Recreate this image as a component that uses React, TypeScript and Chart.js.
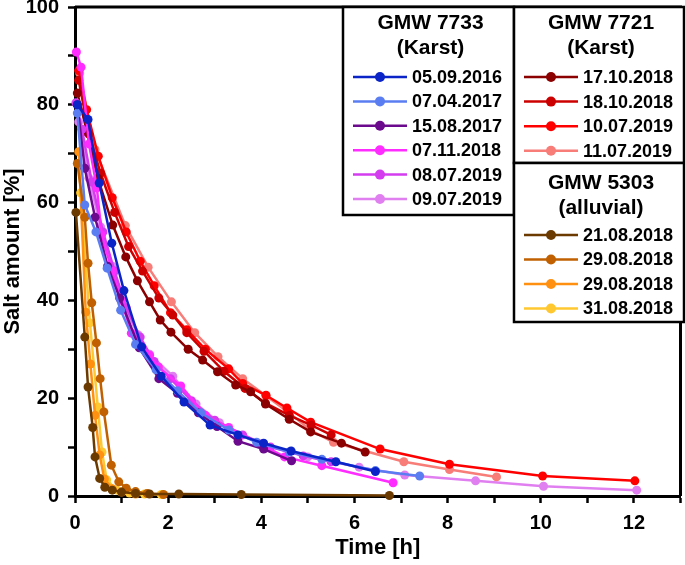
import React, { useEffect, useRef } from "react";
import { Chart, registerables } from "chart.js";

Chart.register(...registerables);

const FONT = '"Liberation Sans", Arial, Helvetica, sans-serif';

// ---- Data (time [h], salt amount [%]) ----
const labels = [
  "05.09.2016", "07.04.2017", "15.08.2017", "07.11.2018", "08.07.2019", "09.07.2019",
  "17.10.2018", "18.10.2018", "10.07.2019", "11.07.2019",
  "21.08.2018", "29.08.2018", "29.08.2018", "31.08.2018",
];
const colors = [
  "#0a24c8", "#5b7df2", "#6b0a8c", "#ff2cff", "#d43cf0", "#e080f0",
  "#8b0000", "#cc0000", "#ff0000", "#f87c78",
  "#6b3a00", "#c06000", "#ff9010", "#ffc830",
];

const t0 = [0.05, 0.28, 0.52, 0.79, 1.05, 1.43, 1.85, 2.34, 2.9, 3.5, 4.05, 4.64, 5.6, 6.45];
const v0 = [80, 77, 64, 51.7, 42, 30.5, 24.5, 19.2, 14.5, 12.5, 10.8, 9.2, 7.0, 5.0];
const t1 = [0.05, 0.21, 0.45, 0.69, 0.98, 1.3, 1.74, 2.2, 2.7, 3.3, 3.9, 4.6, 5.3, 6.45, 7.4];
const v1 = [78.3, 59.5, 54, 46.6, 38, 31, 25.8, 21.5, 17, 13.5, 11, 9, 7.5, 5.2, 4.1];
const t2 = [0.05, 0.21, 0.43, 0.7, 0.96, 1.38, 1.8, 2.2, 2.65, 3.05, 3.5, 4.05, 4.65];
const v2 = [80, 67, 57, 47, 40.5, 30.3, 24, 21, 17, 14.2, 11.2, 9.6, 7.2];
const t3 = [0.03, 0.13, 0.3, 0.47, 0.57, 0.8, 1.0, 1.21, 1.6, 1.79, 2.27, 2.8, 3.3, 4.0, 4.5, 5.3, 6.83];
const v3 = [90.8, 87.7, 72, 63, 53.4, 46, 40, 33.3, 28.8, 26.4, 22.5, 16.5, 14, 10.5, 8, 6.2, 2.7];
const t4 = [0.02, 0.15, 0.36, 0.6, 0.85, 1.1, 1.4, 1.7, 2.05, 2.5, 3.0, 3.6, 4.2, 4.9, 5.5];
const v4 = [80.4, 75, 64.2, 54, 46, 38.5, 32.5, 27.5, 24, 19.5, 15.5, 12.5, 10, 8.2, 7];
const t5 = [0.08, 0.3, 0.55, 0.8, 1.1, 1.35, 1.6, 2.1, 2.6, 3.1, 4.0, 5.0, 6.1, 7.08, 8.6, 10.06, 12.06];
const v5 = [76.5, 65, 55, 47, 38, 33, 29, 24.5, 18.8, 15, 10.7, 8, 5.9, 4.3, 3.1, 2, 1.2];
const t6 = [0.05, 0.26, 0.49, 0.81, 1.09, 1.34, 1.6, 1.83, 2.06, 2.43, 2.74, 3.06, 3.45, 3.77, 4.09, 4.6, 5.06, 5.72, 6.23];
const v6 = [82.4, 74.4, 65, 55.4, 48.9, 44, 39.7, 36, 33.5, 30, 27.8, 25.4, 22.7, 21.3, 18.8, 15.7, 13.1, 10.8, 9];
const t7 = [0.08, 0.3, 0.55, 0.85, 1.15, 1.45, 1.8, 2.1, 2.4, 2.77, 3.2, 3.65, 4.09, 4.6, 5.07, 5.5];
const v7 = [85, 74, 66, 58, 51, 46, 40.5, 37, 33.4, 29.6, 25.5, 22, 19, 16.5, 14.5, 12.5];
const t8 = [0.08, 0.25, 0.5, 0.8, 1.1, 1.4, 1.7, 2.05, 2.4, 2.8, 3.3, 3.6, 4.1, 4.55, 5.06, 6.55, 8.04, 10.04, 12.02];
const v8 = [87, 79, 69.5, 61, 54, 48, 43, 37.5, 34, 30, 26, 23, 20.6, 18, 15.1, 9.6, 6.5, 4.1, 3.1];
const t9 = [0.1, 0.43, 1.08, 1.57, 2.07, 2.57, 3.07, 3.6, 4.1, 4.6, 5.05, 5.55, 7.06, 8.04, 9.05];
const v9 = [86.5, 70.8, 55.3, 46.8, 39.7, 33.4, 28.5, 24, 20.5, 17, 13.5, 11, 7, 5.4, 3.9];
const t10 = [0.02, 0.21, 0.28, 0.38, 0.43, 0.53, 0.64, 0.8, 1.0, 1.3, 1.6, 2.23, 3.57, 6.75];
const v10 = [58, 32.5, 22.3, 14, 8, 3.6, 1.8, 1.2, 0.8, 0.5, 0.4, 0.4, 0.3, 0.1];
const t11 = [0.05, 0.21, 0.28, 0.36, 0.46, 0.54, 0.62, 0.78, 0.94, 1.1, 1.3, 1.55, 1.9];
const v11 = [68, 57, 47.6, 39.5, 31.3, 24, 17.2, 6.3, 2.9, 1.6, 0.9, 0.5, 0.3];
const t12 = [0.08, 0.23, 0.33, 0.43, 0.53, 0.63, 0.8, 1.0, 1.3];
const v12 = [70.4, 37.6, 27, 16.5, 8.4, 3.5, 1.5, 0.8, 0.4];
const t13 = [0.12, 0.32, 0.49, 0.58, 0.68, 0.9, 1.17, 1.49, 1.85];
const v13 = [62, 35.4, 18.2, 9, 3.3, 1.2, 0.6, 0.4, 0.3];

const times = [t0, t1, t2, t3, t4, t5, t6, t7, t8, t9, t10, t11, t12, t13];
const values = [v0, v1, v2, v3, v4, v5, v6, v7, v8, v9, v10, v11, v12, v13];

const groupTitles = [["GMW 7733", "(Karst)"], ["GMW 7721", "(Karst)"], ["GMW 5303", "(alluvial)"]];
const groupMembers = [[0, 1, 2, 3, 4, 5], [6, 7, 8, 9], [10, 11, 12, 13]];

const xTickLabels = [0, 2, 4, 6, 8, 10, 12];
const yTickLabels = [0, 20, 40, 60, 80, 100];

// ---- legend / frame plugin ----
const boxes = [
  { x: 343, y: 7, w: 171, h: 208, ty: 23, firstY: 77, step: 24.4 },
  { x: 514, y: 7, w: 170, h: 156, ty: 23, firstY: 77, step: 24.6 },
  { x: 514, y: 163, w: 170, h: 159, ty: 183, firstY: 235, step: 24.5 },
];

const framePlugin = {
  id: "frameLegend",
  afterDraw(chart: any) {
    const { ctx, chartArea } = chart;
    ctx.save();
    ctx.strokeStyle = "#000";
    ctx.lineWidth = 3;
    ctx.beginPath();
    ctx.moveTo(chartArea.left, chartArea.top);
    ctx.lineTo(chartArea.right, chartArea.top);
    ctx.lineTo(chartArea.right, chartArea.bottom);
    ctx.stroke();

    boxes.forEach((b, gi) => {
      ctx.fillStyle = "#fff";
      ctx.fillRect(b.x, b.y, b.w, b.h);
      ctx.lineWidth = 2.5;
      ctx.strokeStyle = "#000";
      ctx.strokeRect(b.x, b.y, b.w, b.h);
      ctx.fillStyle = "#000";
      ctx.textAlign = "center";
      ctx.textBaseline = "middle";
      ctx.font = `bold 21px ${FONT}`;
      const cx = b.x + b.w / 2 + 2;
      ctx.fillText(groupTitles[gi][0], cx, b.ty);
      ctx.fillText(groupTitles[gi][1], cx, b.ty + 25);
      ctx.font = `bold 18px ${FONT}`;
      ctx.textAlign = "left";
      groupMembers[gi].forEach((si, k) => {
        const y = b.firstY + k * b.step;
        const x1 = b.x + 10;
        const x2 = b.x + 64;
        ctx.strokeStyle = colors[si];
        ctx.lineWidth = 2.5;
        ctx.beginPath();
        ctx.moveTo(x1, y);
        ctx.lineTo(x2, y);
        ctx.stroke();
        ctx.fillStyle = colors[si];
        ctx.beginPath();
        ctx.arc((x1 + x2) / 2, y, 5, 0, Math.PI * 2);
        ctx.fill();
        ctx.fillStyle = "#000";
        ctx.fillText(labels[si], b.x + 69, y + 1);
      });
    });
    ctx.restore();
  },
};

export default function App() {
  const ref = useRef<HTMLCanvasElement | null>(null);
  useEffect(() => {
    document.body.style.margin = "0";
    Chart.defaults.font.family = FONT;
    Chart.defaults.font.size = 20;
    Chart.defaults.font.weight = "bold" as any;
    Chart.defaults.color = "#000";
    const canvas = ref.current!;
    const datasets = times.map((t, i) => ({
      label: labels[i],
      data: t.map((x, j) => ({ x, y: values[i][j] })),
      showLine: true,
      borderColor: colors[i],
      backgroundColor: colors[i],
      borderWidth: 2.5,
      pointRadius: 4.5,
      pointBorderWidth: 0,
      pointBackgroundColor: colors[i],
      clip: false as any,
    }));
    const tickFont = () => ({ family: FONT, size: 20, weight: "bold" });
    const titleFont = { family: FONT, size: 22, weight: "bold" as const };
    const chart = new Chart(canvas, {
      type: "scatter",
      data: { datasets },
      options: {
        responsive: false,
        animation: false,
        layout: { padding: { top: 7, right: 1, left: 0, bottom: 0 } },
        plugins: { legend: { display: false }, tooltip: { enabled: false } },
        scales: {
          x: {
            type: "linear",
            min: 0,
            max: 13,
            ticks: {
              stepSize: 1,
              autoSkip: false,
              maxRotation: 0,
              color: "#000",
              font: tickFont as any,
              padding: 8,
              callback: (v: any) => (xTickLabels.includes(Number(v)) ? String(v) : ""),
            },
            grid: { drawOnChartArea: false, drawTicks: true, tickLength: 7, tickWidth: 2.5, color: "#000" },
            border: { display: true, width: 3, color: "#000" },
            title: { display: true, text: "Time [h]", color: "#000", font: titleFont, padding: { top: 2, bottom: 4 } },
            afterFit: (s: any) => {
              s.height = 69;
              s.paddingLeft = 0;
              s.paddingRight = 0;
            },
          },
          y: {
            type: "linear",
            min: 0,
            max: 100,
            ticks: {
              stepSize: 10,
              autoSkip: false,
              color: "#000",
              font: tickFont as any,
              padding: 9,
              callback: (v: any) => (yTickLabels.includes(Number(v)) ? String(v) : ""),
            },
            grid: { drawOnChartArea: false, drawTicks: true, tickLength: 7, tickWidth: 2.5, color: "#000" },
            border: { display: true, width: 3, color: "#000" },
            title: { display: true, text: "Salt amount [%]", color: "#000", font: titleFont, padding: { top: 0, bottom: 0 } },
            afterFit: (s: any) => {
              s.width = 75;
              s.paddingTop = 0;
              s.paddingBottom = 0;
            },
          },
        },
      },
      plugins: [framePlugin],
    });
    return () => chart.destroy();
  }, []);
  return <canvas ref={ref} width={685} height={565} style={{ display: "block" }} />;
}
